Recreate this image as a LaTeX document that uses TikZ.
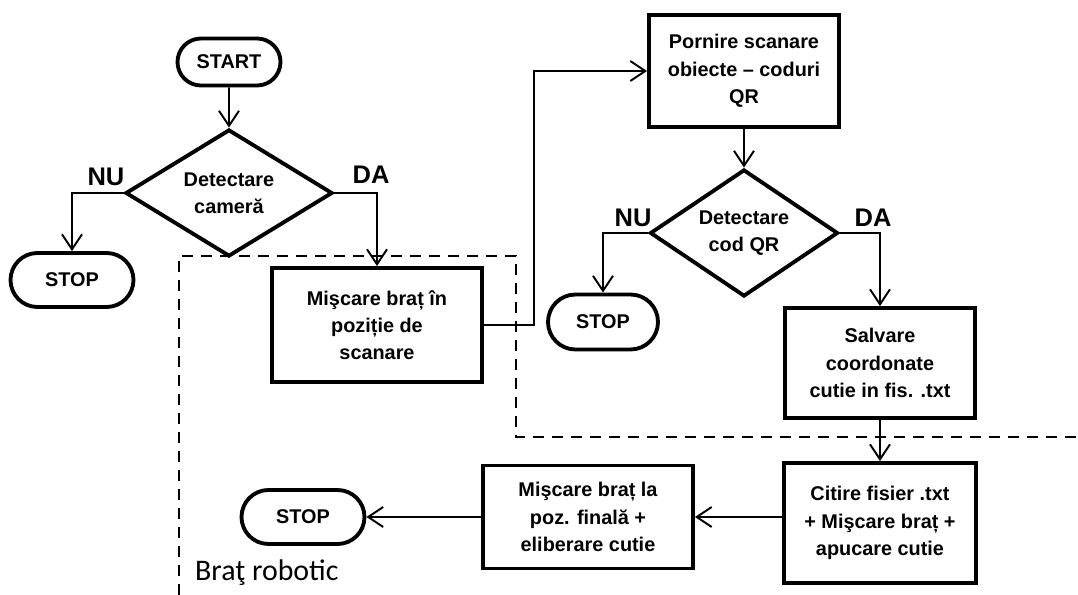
\documentclass[tikz,border=0pt]{standalone}
\usepackage{fontspec}
\setmainfont{Liberation Sans}
\newfontfamily\calibrifont{Carlito}
\usepackage{tikz}
\usetikzlibrary{arrows.meta,shapes.geometric,shapes.misc}
\tikzset{
  every picture/.style={line join=miter, >={Straight Barb[length=3mm,width=4mm]}},
  base/.style={draw, line width=2.2pt, inner sep=0pt, align=center,
    font=\bfseries\fontsize{11.3}{15.5}\selectfont},
  term/.style={base, rounded rectangle, minimum width=2.46cm, minimum height=1.08cm},
  box/.style={base, rectangle},
  decision/.style={base, diamond, aspect=1.63},
  answer/.style={font=\bfseries\fontsize{14.5}{16}\selectfont},
  arr/.style={->, line width=1.1pt},
}

\begin{document}
\begin{tikzpicture}
\useasboundingbox (0,0) rectangle (21.56,-11.9);
\node[term, minimum width=2.06cm, minimum height=0.94cm] (start) at (4.58,-1.24) {START};
\node[decision, minimum width=4.14cm, minimum height=2.54cm] (cam) at (4.58,-3.86) {Detectare\\cameră};
\node[term] (stopa) at (1.44,-5.60) {STOP};
\node[box, minimum width=4.2cm, minimum height=2.28cm] (move) at (7.54,-6.50) {Mişcare braț în\\poziție de\\scanare};
\node[box, minimum width=3.8cm, minimum height=2.24cm] (scan) at (14.88,-1.42) {Pornire scanare\\obiecte – coduri\\QR};
\node[decision, minimum width=3.76cm, minimum height=2.54cm] (qr) at (14.88,-4.66) {Detectare\\cod QR};
\node[term, minimum width=2.2cm, minimum height=1.1cm] (stopb) at (12.06,-6.44) {STOP};
\node[box, minimum width=3.8cm, minimum height=2.2cm] (save) at (17.6,-7.26) {Salvare\\coordonate\\cutie in fis. .txt};
\node[box, minimum width=3.84cm, minimum height=2.4cm] (read) at (17.6,-10.46) {Citire fisier .txt\\+ Mişcare braț +\\apucare cutie};
\node[box, minimum width=4.2cm, minimum height=2.06cm] (release) at (11.76,-10.34) {Mişcare braț la\\poz. finală +\\eliberare cutie};
\node[term] (stopc) at (6.06,-10.34) {STOP};

\node[answer] (nua) at (2.12,-3.54) {NU};
\node[answer] (daa) at (7.42,-3.50) {DA};
\node[answer] (nub) at (12.66,-4.36) {NU};
\node[answer] (dab) at (17.46,-4.36) {DA};

\draw[arr] (start) -- (cam);
\draw[arr] (cam.west) -| (stopa.north);
\draw[arr] (cam.east) -| (move.north);
\draw[arr] (move.east) -- ++(1.0,0) |- (scan.west);
\draw[arr] (scan) -- (qr);
\draw[arr] (qr.west) -| (stopb.north);
\draw[arr] (qr.east) -| (save.north);
\draw[arr] (save) -- (read);
\draw[arr] (read.west |- release.east) -- (release.east);
\draw[arr] (release) -- (stopc);

\draw[line width=1.1pt, dash pattern=on 0.22cm off 0.16cm]
  (3.58,-11.9) -- (3.58,-5.12) -- (10.32,-5.12) -- (10.32,-8.74) -- (21.56,-8.74);
\node[anchor=west, font=\calibrifont\fontsize{17}{20}\selectfont] (arm) at (3.78,-11.46) {Braţ robotic};
\end{tikzpicture}
\end{document}
